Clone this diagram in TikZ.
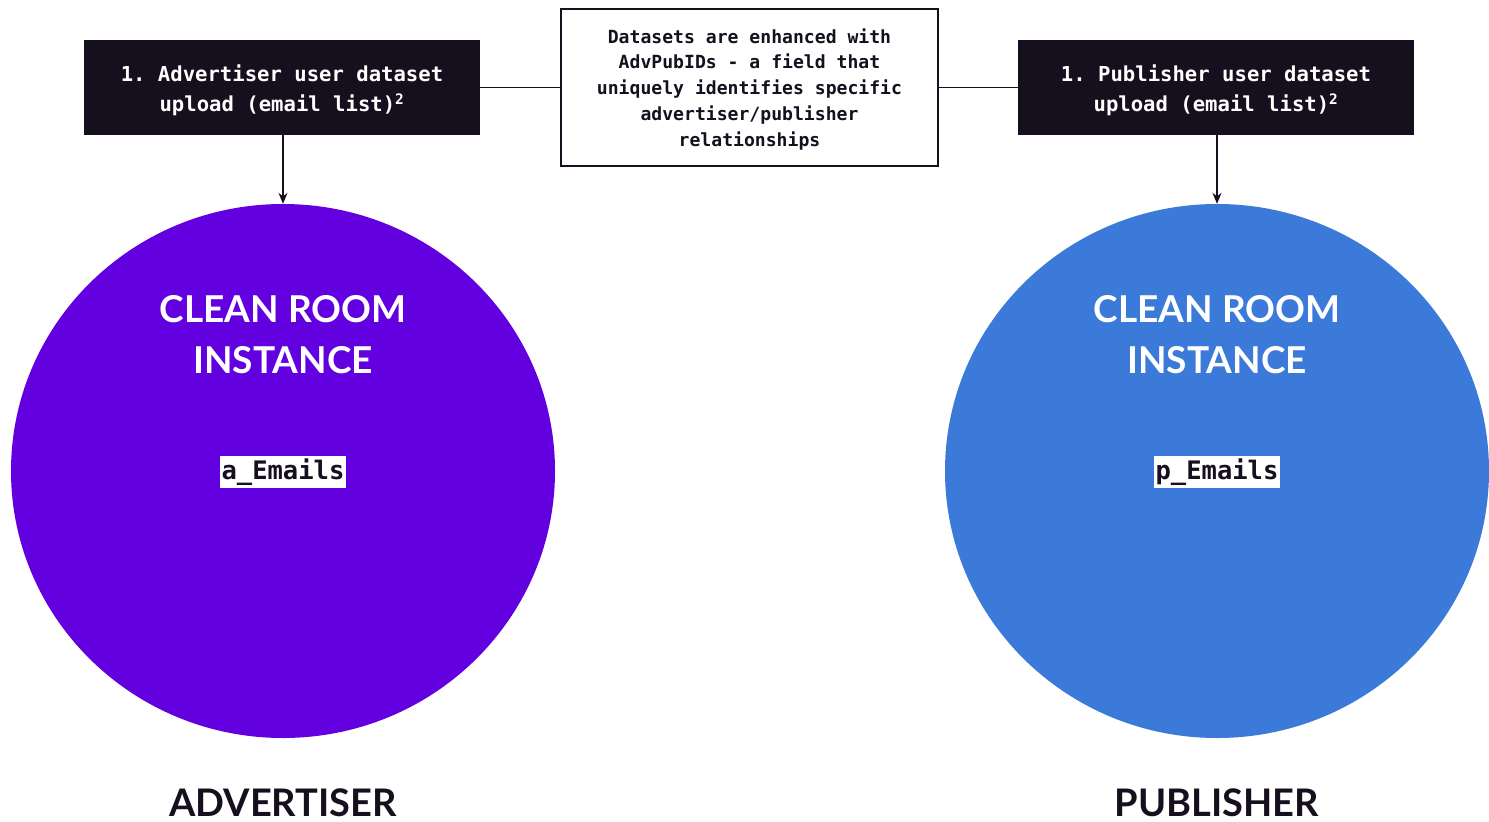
\documentclass[tikz,border=0pt]{standalone}
\usepackage{fontspec}
\usetikzlibrary{arrows.meta,shapes.geometric}
\newfontfamily\monobold{DejaVu Sans Mono}[BoldFont=* Bold]
\newfontfamily\latofont{Lato}
\definecolor{inkdark}{HTML}{16101E}
\definecolor{advpurple}{HTML}{6200E0}
\definecolor{pubblue}{HTML}{3C7AD9}
% a strut that pushes a centred text block down by half its extra height
\newcommand{\lowerby}[1]{\rule{0pt}{#1}}
\tikzset{
  uploadbox/.style={fill=inkdark, text=white, minimum width=396pt, minimum height=95pt,
    align=center, font=\frenchspacing\monobold\bfseries\fontsize{20.6}{30}\selectfont, inner sep=0pt},
  notebox/.style={draw=inkdark, line width=1.5pt, fill=white, text=inkdark, minimum width=377pt,
    minimum height=157pt, align=center, font=\frenchspacing\monobold\bfseries\fontsize{18.1}{25.8}\selectfont, inner sep=0pt},
  roomcircle/.style={ellipse, minimum width=544pt, minimum height=534pt, inner sep=0pt},
  roomtitle/.style={text=white, align=center, font=\latofont\bfseries\fontsize{37}{51}\selectfont},
  tablelabel/.style={fill=white, text=inkdark, minimum height=32pt, inner xsep=2pt, inner ysep=0pt,
    font=\monobold\bfseries\fontsize{25.5}{30}\selectfont},
  sidelabel/.style={text=inkdark, anchor=base, font=\latofont\bfseries\fontsize{38}{46}\selectfont, inner sep=0pt},
  link/.style={draw=inkdark, line width=1.3pt},
  feed/.style={link, -{Stealth[length=11pt, width=9pt]}}
}
\begin{document}
\begin{tikzpicture}[x=1pt, y=-1pt]
  \useasboundingbox (0,0) rectangle (1489,822);

  % the two clean room instances
  \node[roomcircle, fill=advpurple] (advroom) at (283,471) {};
  \node[roomcircle, fill=pubblue] (pubroom) at (1217,471) {};

  \node[roomtitle] (advtitle) at (283,335) {CLEAN ROOM\\INSTANCE};
  \node[roomtitle] (pubtitle) at (1217,335) {CLEAN ROOM\\INSTANCE};

  \node[tablelabel] (advtable) at (283,472) {a\_Emails};
  \node[tablelabel] (pubtable) at (1217,472) {p\_Emails};

  % dataset uploads and the shared note
  \node[uploadbox] (advupload) at (282,87.5) {\lowerby{23pt}1. Advertiser user dataset\\upload (email list)\textsuperscript{2}};
  \node[uploadbox] (pubupload) at (1216,87.5) {\lowerby{23pt}1. Publisher user dataset\\upload (email list)\textsuperscript{2}};
  \node[notebox] (note) at (749.5,87.5) {\lowerby{18pt}Datasets are enhanced with\\AdvPubIDs - a field that\\uniquely identifies specific\\advertiser/publisher\\relationships};

  \draw[link] (advupload.east) -- (note.west);
  \draw[link] (note.east) -- (pubupload.west);

  \draw[feed] (advroom.north |- advupload.south) -- (advroom.north);
  \draw[feed] (pubroom.north |- pubupload.south) -- (pubroom.north);

  % party labels
  \node[sidelabel] (advname) at (283,816) {ADVERTISER};
  \node[sidelabel] (pubname) at (1217,816) {PUBLISHER};
\end{tikzpicture}
\end{document}
